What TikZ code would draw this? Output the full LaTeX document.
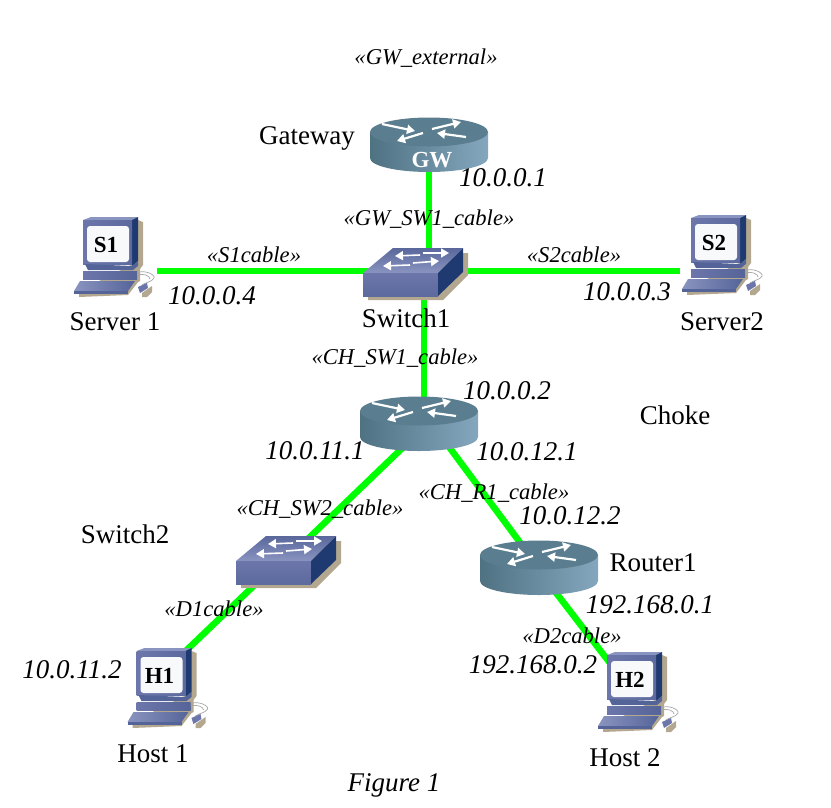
\documentclass[tikz,border=0pt]{standalone}
\usepackage{fontspec}
\setmainfont{Liberation Serif}
\usetikzlibrary{arrows.meta}
\definecolor{cablegreen}{HTML}{00FF00}
\definecolor{iconshadow}{HTML}{B3A88F}
\definecolor{iconblue}{HTML}{6C76AA}
\definecolor{iconlight}{HTML}{8A94C0}
\definecolor{icondark}{HTML}{1F3A70}
\definecolor{routerdark}{HTML}{4F7283}
\definecolor{routerlight}{HTML}{85A7BE}
\definecolor{routertop}{HTML}{5A7E8F}
\tikzset{
    devicenode/.style={inner sep=0pt, minimum width=68pt, minimum height=54pt},
    cable/.style={line width=6.5pt, cablegreen},
    flow/.style={white, line width=2.2pt, -{Triangle[length=8pt,width=9pt]}},
    plainlabel/.style={inner sep=0pt, font=\fontsize{27}{30}\selectfont},
    addrlabel/.style={inner sep=0pt, font=\fontsize{27}{30}\selectfont\itshape},
    stereolabel/.style={inner sep=0pt, font=\fontsize{22.6}{26}\selectfont\itshape},
    pctag/.style={inner sep=0pt, font=\fontsize{23}{26}\selectfont\bfseries},
    routericon/.pic={
        \shade[left color=routerdark, right color=routerlight] (-59,-13) -- (-59,13) .. controls (-59,21) and (-32,27) .. (0,27) .. controls (32,27) and (59,21) .. (59,13) -- (59,-13) -- cycle;
        \fill[routertop] (0,-13) ellipse [x radius=59, y radius=14.5];
        \draw[flow] (-47,-21) -- (-14,-14);
        \draw[flow] (-6,-12) -- (-32,-4);
        \draw[flow] (3,-16) -- (32,-23);
        \draw[flow] (37,-8) -- (8,-12);
    },
    switchicon/.pic={
        \fill[iconshadow] (-46,25) -- (-46,29) -- (29,29) -- (54,4) -- (54,-18) -- (49,-18) -- cycle;
        \shade[top color=iconblue!75!icondark, bottom color=iconlight] (-51,2) -- (-21,-23) -- (49,-23) -- (24,2) -- cycle;
        \shade[top color=iconblue, bottom color=iconblue!80!icondark] (-51,2) rectangle (24,25);
        \fill[icondark] (24,2) -- (49,-23) -- (49,1) -- (24,25) -- cycle;
        \draw[flow, line width=1.6pt] (6,-16) -- (-19,-15);
        \draw[flow, line width=1.6pt] (9,-18) -- (35,-18);
        \draw[flow, line width=1.6pt] (-4,-6) -- (-31,-5);
        \draw[flow, line width=1.6pt] (-1,-8) -- (25,-10);
    },
    pcicon/.pic={
        \fill[iconshadow] (32,-25) -- (37,-23) -- (37,20) -- (34,24) -- (34,36) -- (32,37) -- (22,50) -- (-27,52) -- (-27,46) -- (25,20) -- cycle;
        \fill[iconshadow] (36,48) -- (46,41) -- (46,47) -- (41,52) -- (36,52) -- cycle;
        \fill[iconlight] (-23,-25) -- (-15,-28) -- (32,-28) -- (26,-25) -- cycle;
        \fill[icondark] (26,-25) -- (32,-28) -- (32,16) -- (26,21) -- cycle;
        \shade[left color=iconblue, right color=iconblue!80!icondark] (-23,-25) rectangle (26,19);
        \fill[white!93!routerlight, rounded corners=3pt] (-19,-19) rectangle (23,17);
        \fill[iconblue!70!icondark] (-21,19) -- (26,21) -- (32,16) -- (32,21) -- (27,25) -- (-18,25) -- cycle;
        \shade[left color=iconblue, right color=iconblue!70!icondark] (-23,26) -- (31,26) -- (31,34) -- (-23,34) -- cycle;
        \shade[left color=iconlight, right color=iconblue!70!icondark] (-26,36) -- (29,36) -- (22,46) -- (-32,46) -- cycle;
        \fill[iconblue!70!icondark] (-32,46) -- (22,46) -- (22,49) -- (-32,49) -- cycle;
        \draw[gray!70, line width=0.7pt] (31,28) .. controls (38,24) and (50,30) .. (48,33) .. controls (46,37) and (40,37) .. (36,40);
        \draw[gray!70, line width=0.7pt] (31,30) .. controls (38,28) and (44,31) .. (44,34);
        \fill[iconblue] (32,42) -- (41,38) -- (42,43) -- (34,48) -- cycle;
    }
}
\begin{document}
\begin{tikzpicture}[x=1pt,y=-1pt]
    \useasboundingbox (0,0) rectangle (831,807);
    \node[devicenode] (gw) at (429,145) {};
    \node[devicenode] (sw1) at (414,271) {};
    \node[devicenode] (ch) at (419,424) {};
    \node[devicenode] (sw2) at (287,559) {};
    \node[devicenode] (r1) at (539,568) {};
    \node[devicenode] (s1) at (106,245) {};
    \node[devicenode] (s2) at (714,243) {};
    \node[devicenode] (h1) at (159.5,676) {};
    \node[devicenode] (h2) at (630,680) {};

    \draw[cable] (gw.south) -- (gw.south |- sw1.center);
    \draw[cable] (sw1.center) -- ([xshift=17pt]s1.east |- sw1.center);
    \draw[cable] (sw1.center) -- (s2.west |- sw1.center);
    \draw[cable] ([xshift=5pt]ch.center) -- ([xshift=5pt]ch.center |- sw1.center);
    \draw[cable] ([yshift=-8pt]ch.center) -- (sw2.center);
    \draw[cable] ([yshift=5pt]sw2.center) -- (h1.center);
    \draw[cable] ([xshift=13pt]ch.center) -- (r1.center);
    \draw[cable] ([xshift=-2pt]r1.center) -- ([xshift=-7pt]h2.center);

    \pic at (gw) {routericon};
    \pic at (ch) {routericon};
    \pic at (r1) {routericon};
    \pic at (sw1) {switchicon};
    \pic at (sw2) {switchicon};
    \pic at (s1) {pcicon};
    \pic at (s2) {pcicon};
    \pic at (h1) {pcicon};
    \pic at (h2) {pcicon};

    \node[pctag, white] (gw tag) at (432,160) {GW};
    \node[pctag] (s1 tag) at (s1) {S1};
    \node[pctag] (s2 tag) at (s2) {S2};
    \node[pctag] (h1 tag) at (h1) {H1};
    \node[pctag] (h2 tag) at (h2) {H2};

    \node[plainlabel] (gw name) at (307,138) {Gateway};
    \node[plainlabel] (s1 name) at (115,322) {Server 1};
    \node[plainlabel] (sw1 name) at (406,318) {Switch1};
    \node[plainlabel] (s2 name) at (722,322) {Server2};
    \node[plainlabel] (ch name) at (675,415) {Choke};
    \node[plainlabel] (sw2 name) at (125,534) {Switch2};
    \node[plainlabel] (r1 name) at (653,563) {Router1};
    \node[plainlabel] (h1 name) at (153,754) {Host 1};
    \node[plainlabel] (h2 name) at (625,758) {Host 2};
    \node[addrlabel] (figure) at (394,785) {Figure 1};

    \node[addrlabel] (addr gw) at (503,178) {10.0.0.1};
    \node[addrlabel] (addr s1) at (212,296) {10.0.0.4};
    \node[addrlabel] (addr s2) at (627,292) {10.0.0.3};
    \node[addrlabel] (addr ch) at (507,391) {10.0.0.2};
    \node[addrlabel] (addr chl) at (315,451) {10.0.11.1};
    \node[addrlabel] (addr chr) at (527,452) {10.0.12.1};
    \node[addrlabel] (addr r1) at (570,516) {10.0.12.2};
    \node[addrlabel] (addr r1b) at (650,605) {192.168.0.1};
    \node[addrlabel] (addr h2) at (533,665) {192.168.0.2};
    \node[addrlabel] (addr h1) at (72,670) {10.0.11.2};

    \node[stereolabel] (st gw) at (426,58) {«GW\_external»};
    \node[stereolabel] (st gwsw) at (429,219) {«GW\_SW1\_cable»};
    \node[stereolabel] (st s1) at (254,255) {«S1cable»};
    \node[stereolabel] (st s2) at (574,255) {«S2cable»};
    \node[stereolabel] (st chsw1) at (395,358) {«CH\_SW1\_cable»};
    \node[stereolabel] (st chr1) at (494,493) {«CH\_R1\_cable»};
    \node[stereolabel] (st chsw2) at (320,509) {«CH\_SW2\_cable»};
    \node[stereolabel] (st d1) at (214,609) {«D1cable»};
    \node[stereolabel] (st d2) at (572,636) {«D2cable»};
\end{tikzpicture}
\end{document}
